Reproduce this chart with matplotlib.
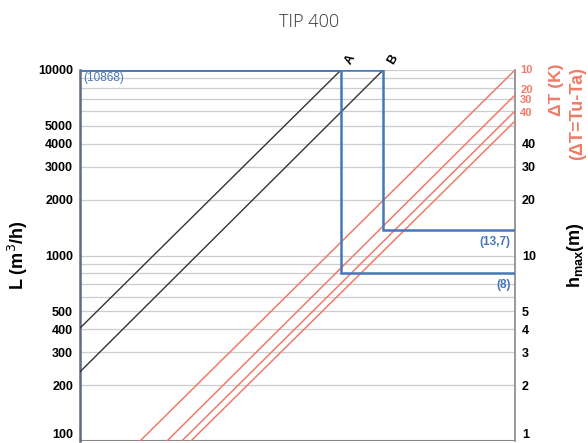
import numpy as np
import matplotlib
matplotlib.use("Agg")
import matplotlib.pyplot as plt
import matplotlib.transforms as mtransforms

# nomogram data (x is a hidden 0..100 position across the chart)
left_ticks = [100, 200, 300, 400, 500, 1000, 2000, 3000, 4000, 5000, 10000]
right_ticks = [1, 2, 3, 4, 5, 10, 20, 30, 40]
grid_levels = [200, 300, 400, 500, 600, 700, 800, 900, 1000,
               2000, 3000, 4000, 5000, 6000, 7000, 8000, 9000, 10000]

# black lines A and B: start/end (x, L)
fan_names = ["A", "B"]
fan_x = [[0, 60.0], [0, 69.7]]
fan_L = [[406, 10000], [236, 10000]]

# red delta-T lines
dt_names = ["10", "20", "30", "40"]
dt_x = [[13.8, 100], [20.0, 100], [23.4, 100], [25.5, 100]]
dt_L = [[100, 10000], [100, 7330], [100, 6010], [100, 5310]]
dt_label_L = [10000, 7850, 6850, 5850]

# blue reading paths
path_x = [[0, 60.0, 60.0, 100], [0, 69.7, 69.7, 100]]
path_L = [[10000, 10000, 800, 800], [10000, 10000, 1370, 1370]]
path_labels = ["(8)", "(13,7)"]
hmax_read = [8, 13.7]

blue = "#4677b8"
red = "#ef7b68"
bold = dict(family="Liberation Sans", weight="bold")

fig = plt.figure(figsize=(5.88, 4.43), dpi=100)
ax = fig.add_axes([80/588, 2/443, 435/588, 371/443])
ax.set_yscale("log")
ax.set_ylim(100, 10000)
ax.set_xlim(0, 100)
ax.set_xticks([])

for g in grid_levels:
    ax.axhline(g, color="#cccccc", lw=0.9, zorder=1)

for xs, ls in zip(fan_x, fan_L):
    ax.plot(xs, ls, color="#333333", lw=1.0, zorder=3)
for xs, ls in zip(dt_x, dt_L):
    ax.plot(xs, ls, color=red, lw=1.1, zorder=3)
for xs, ls in zip(path_x, path_L):
    ax.plot(xs, ls, color=blue, lw=1.8, zorder=4, solid_joinstyle="miter")

ax.set_yticks(left_ticks)
ax.set_yticklabels([str(t) for t in left_ticks], **bold, fontsize=9)
ax.yaxis.set_minor_locator(matplotlib.ticker.NullLocator())
ax.tick_params(axis="y", length=0, pad=5)
ax.get_yticklabels()[0].set_va("bottom")
ax.set_ylabel("L (m$^3$/h)", **bold, fontsize=13, labelpad=6)

for s in ["top", "bottom"]:
    ax.spines[s].set_visible(False)
ax.spines["left"].set_color("#5f6b80")
ax.spines["left"].set_linewidth(1.8)
ax.spines["right"].set_color("#888888")
ax.spines["right"].set_linewidth(1.2)
ax.axhline(100, color="#888888", lw=1.5, zorder=2)

ax2 = ax.twinx()
ax2.set_yscale("log")
ax2.set_ylim(1, 100)
ax2.set_yticks(right_ticks)
ax2.set_yticklabels([str(t) for t in right_ticks], **bold, fontsize=9)
ax2.yaxis.set_minor_locator(matplotlib.ticker.NullLocator())
ax2.tick_params(axis="y", length=0, pad=5)
ax2.get_yticklabels()[0].set_va("bottom")
for s in ax2.spines.values():
    s.set_visible(False)
ax2.set_ylabel("h$_{\\mathregular{max}}$(m)", **bold, fontsize=13, labelpad=21)

trans = mtransforms.blended_transform_factory(ax.transAxes, ax.transData)
for name, lv in zip(dt_names, dt_label_L):
    ax.text(1.012, lv, name, transform=trans, color=red, fontsize=8,
            ha="left", va="center", **bold)

for name, xs in zip(fan_names, fan_x):
    ax.text(xs[1] + 2.2, 10000 * 1.14, name, rotation=60, fontsize=9,
            ha="center", va="center", clip_on=False, **bold)

for lab, h in zip(path_labels, hmax_read):
    ax.text(0.99, h * 100 * 0.93, lab, transform=trans, color=blue,
            fontsize=8.5, ha="right", va="top", **bold)
ax.text(0.007, 10000 * 0.97, "(10868)", transform=trans, color=blue,
        fontsize=8.5, ha="left", va="top", family="Liberation Sans")

fig.text(556/588, 1 - 90/443, "ΔT (K)", rotation=90, color=red,
         fontsize=12.5, ha="center", va="center", **bold)
fig.text(578/588, 1 - 113/443, "(ΔT=Tu-Ta)", rotation=90, color=red,
         fontsize=13, ha="center", va="center", **bold)

fig.text(309/588, 1 - 22/443, "TIP 400", fontsize=13, color="#333333",
         ha="center", va="center", family="Open Sans", weight="light")

fig.savefig("out.png", dpi=100)
